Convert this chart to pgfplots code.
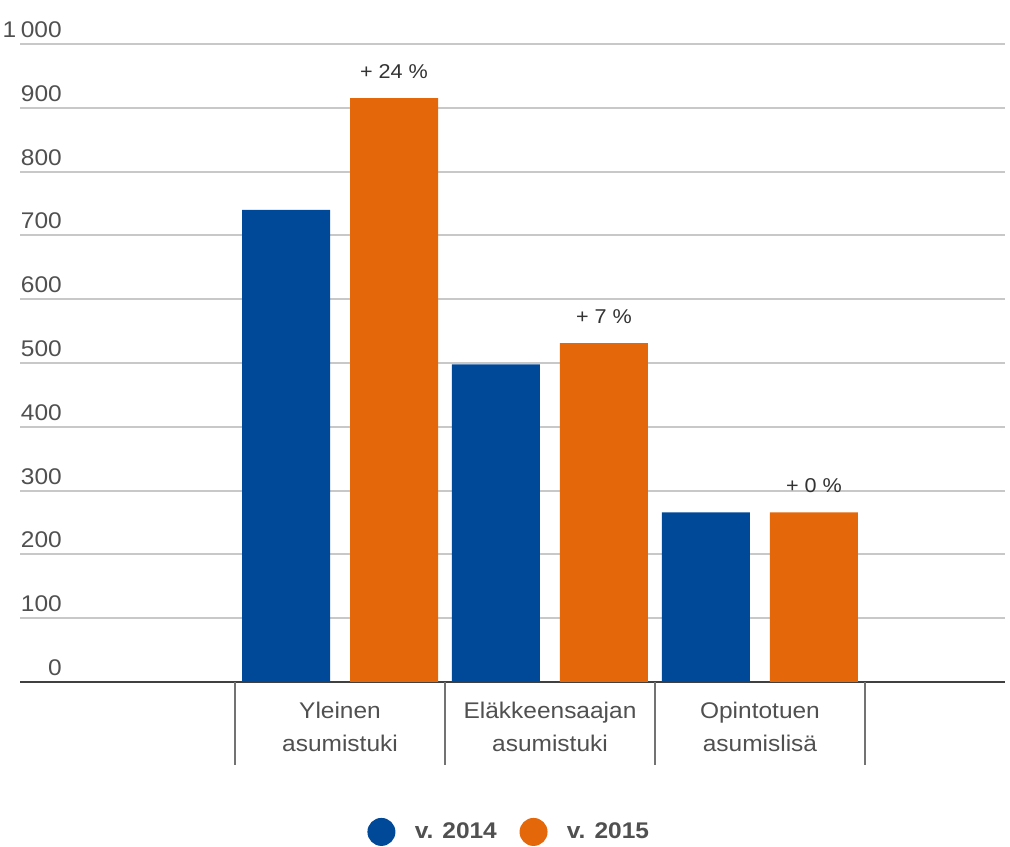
\documentclass[border=0pt]{standalone}
\usepackage{fontspec}
\setmainfont{Liberation Sans}[FakeStretch=1.08]
\usepackage{pgfplots}
\pgfplotsset{compat=1.18}
\definecolor{cblue}{RGB}{0,72,152}
\definecolor{corange}{RGB}{228,103,10}
\definecolor{cgrid}{RGB}{200,200,200}
\definecolor{ctext}{RGB}{80,80,80}
\begin{document}
\begin{tikzpicture}
\useasboundingbox (0,0) rectangle (757.5pt,634.5pt);
\begin{axis}[
  at={(15pt,123pt)}, anchor=south west,
  scale only axis, width=738.75pt, height=478.5pt,
  xmin=-1.524, xmax=3.167, ymin=0, ymax=1000,
  ybar=15pt, bar width=66pt,
  axis x line*=bottom, axis y line*=left,
  y axis line style={draw=none},
  x axis line style={draw=black!75, line width=1.8pt},
  ytick={0,100,...,1000},
  ymajorgrids, grid style={cgrid, line width=1.5pt},
  tick style={draw=none},
  yticklabel style={anchor=south east, inner sep=0pt, xshift=31.5pt, yshift=4.5pt, font=\fontsize{17}{20}\selectfont, text=ctext},
  /pgf/number format/1000 sep={\hspace{3.5pt}},
  /pgf/number format/assume math mode=true,
  xtick={0,1,2},
  xticklabels={{Yleinen\\asumistuki},{Eläkkeensaajan\\asumistuki},{Opintotuen\\asumislisä}},
  xticklabel style={align=center, font=\fontsize{17}{25}\selectfont, text=ctext, yshift=-7pt},
  extra x ticks={-0.5,0.5,1.5,2.5},
  extra x tick labels={},
  extra x tick style={tick style={draw=black!55, line width=1.1pt}, major tick length=62pt, tick align=outside},
  legend style={at={(0.497,-0.235)}, anchor=center, draw=none, legend columns=2,
    font=\fontsize{17}{20}\selectfont\bfseries, text=ctext,
    /tikz/every even column/.append style={column sep=15pt}},
]
\addplot[fill=cblue, draw=none,
  legend image code/.code={\fill[cblue] (0pt,0pt) circle (10.5pt); \path[draw=none,fill=none] (10.5pt,0pt) rectangle (23pt,0.1pt);}]
  coordinates {(0,740) (1,498) (2,266)};
\addlegendentry{v. 2014}
\addplot[fill=corange, draw=none,
  legend image code/.code={\fill[corange] (0pt,0pt) circle (10.5pt); \path[draw=none,fill=none] (10.5pt,0pt) rectangle (23pt,0.1pt);},
  nodes near coords, point meta=explicit symbolic,
  nodes near coords style={font=\fontsize{15}{18}\selectfont, text=black!80, anchor=base, yshift=15pt}]
  coordinates {(0,915) [+ 24 \%] (1,531) [+ 7 \%] (2,266) [+ 0 \%]};
\addlegendentry{v. 2015}
\end{axis}
\end{tikzpicture}
\end{document}
